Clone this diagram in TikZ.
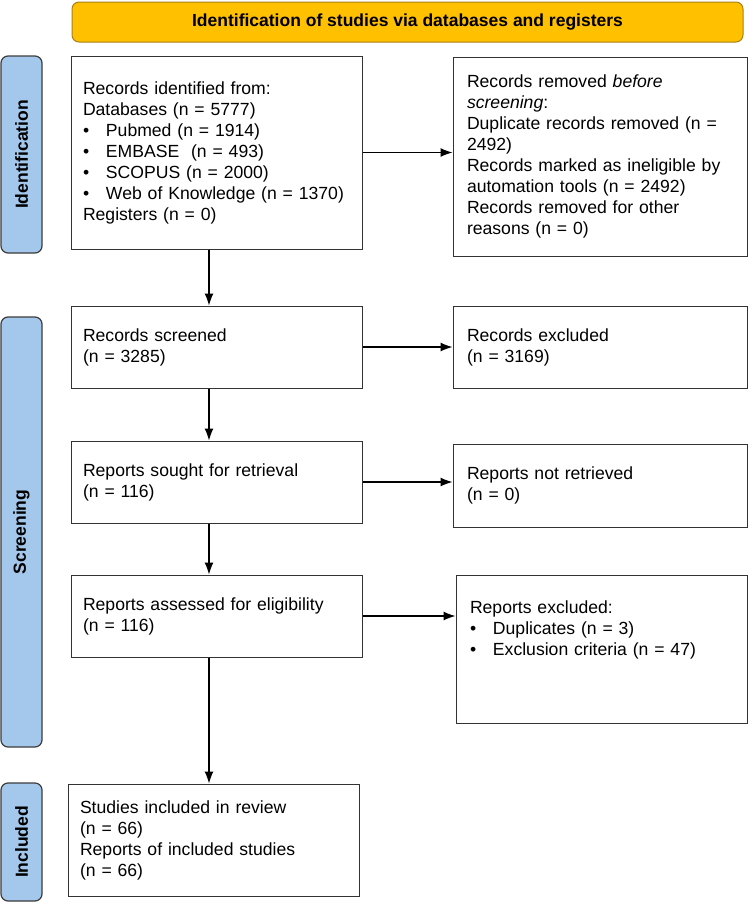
\documentclass[tikz,border=0pt]{standalone}
\usepackage{fontspec}
\setmainfont{Liberation Sans}
\usepackage{xcolor}
\usetikzlibrary{arrows.meta, positioning}

\begin{document}
\begin{tikzpicture}[x=1pt, y=-1pt, >={Latex[length=12pt,width=9pt]}]

\definecolor{bannergold}{RGB}{255, 192, 0}
\definecolor{bannerrim}{RGB}{168, 128, 20}
\definecolor{stageblue}{RGB}{164, 200, 236}
\definecolor{stagerim}{RGB}{60, 60, 60}

\useasboundingbox (0,0) rectangle (749,903);

\tikzset{
    banner/.style={
        draw=bannerrim, fill=bannergold, line width=1pt, rounded corners=7pt,
        minimum width=671pt, minimum height=40pt, inner sep=0pt,
        font=\bfseries\fontsize{17.5}{20}\selectfont
    },
    stage/.style={
        draw=stagerim, fill=stageblue, line width=1.2pt, rounded corners=7pt,
        rotate=90, minimum height=41pt, inner sep=0pt,
        font=\bfseries\fontsize{17.5}{20}\selectfont
    },
    flowbox/.style={
        draw=black!80, line width=1pt, align=left, inner xsep=12pt, inner ysep=0pt,
        text width=267pt, font=\fontsize{17.6}{21}\selectfont
    },
    sidebox/.style={
        flowbox, text width=266pt, inner xsep=14pt
    },
    flow/.style={
        draw=black, line width=1.2pt, ->
    }
}
\newcommand{\blt}{\makebox[23pt][l]{\textbullet}}

% Title
\node[banner] (title) at (407.5, 22) {Identification of studies via databases and registers};

% --- STAGE LABELS ---
\node[stage, minimum width=197pt] (ident) at (21.5, 154.5) {Identification};
\node[stage, minimum width=430pt] (screen) at (21.5, 532) {Screening};
\node[stage, minimum width=118pt] (incl) at (21.5, 842) {Included};

% --- LEFT COLUMN ---
\node[flowbox, minimum height=193pt] (found) at (216.5, 152.5) {Records identified from:\\
Databases (n = 5777)\\
\blt Pubmed (n = 1914)\\
\blt EMBASE\ \ (n = 493)\\
\blt SCOPUS (n = 2000)\\
\blt Web of Knowledge (n = 1370)\\
Registers (n = 0)};

\node[flowbox, minimum height=82pt] (screened) at (216.5, 347) {Records screened\\(n = 3285)};
\node[flowbox, minimum height=82pt] (sought) at (216.5, 482) {Reports sought for retrieval\\(n = 116)};
\node[flowbox, minimum height=82pt] (assessed) at (216.5, 616) {Reports assessed for eligibility\\(n = 116)};
\node[flowbox, minimum height=112pt] (included) at (213.5, 840) {Studies included in review\\(n = 66)\\Reports of included studies\\(n = 66)};

% --- RIGHT COLUMN ---
\node[sidebox, minimum height=199pt] (removed) at (600, 156.5) {Records removed \textit{before}\\
\textit{screening}:\\
Duplicate records removed (n =\\
2492)\\
Records marked as ineligible by\\
automation tools (n = 2492)\\
Records removed for other\\
reasons (n = 0)};

\node[sidebox, minimum height=82pt] (excluded) at (600, 347) {Records excluded\\(n = 3169)};
\node[sidebox, minimum height=83pt] (notret) at (600, 485.5) {Reports not retrieved\\(n = 0)};
\node[sidebox, text width=263pt, minimum height=148pt] (repexcl) at (601.5, 649) {Reports excluded:\\
\blt Duplicates (n = 3)\\
\blt Exclusion criteria (n = 47)\\
\mbox{}\\
\mbox{}};

% --- CONNECTORS ---
\draw[flow] ([xshift=-7.5pt]found.south) -- ([xshift=-7.5pt]screened.north);
\draw[flow] ([xshift=-7.5pt]screened.south) -- ([xshift=-7.5pt]sought.north);
\draw[flow] ([xshift=-7.5pt]sought.south) -- ([xshift=-7.5pt]assessed.north);
\draw[flow] ([xshift=-7.5pt]assessed.south) -- ([xshift=-7.5pt]assessed.south |- included.north);

\draw[flow] (found.east) -- (found.east -| removed.west);
\draw[flow] (screened.east) -- (screened.east -| excluded.west);
\draw[flow] (sought.east) -- (sought.east -| notret.west);
\draw[flow] (assessed.east) -- (assessed.east -| repexcl.west);

\end{tikzpicture}
\end{document}
